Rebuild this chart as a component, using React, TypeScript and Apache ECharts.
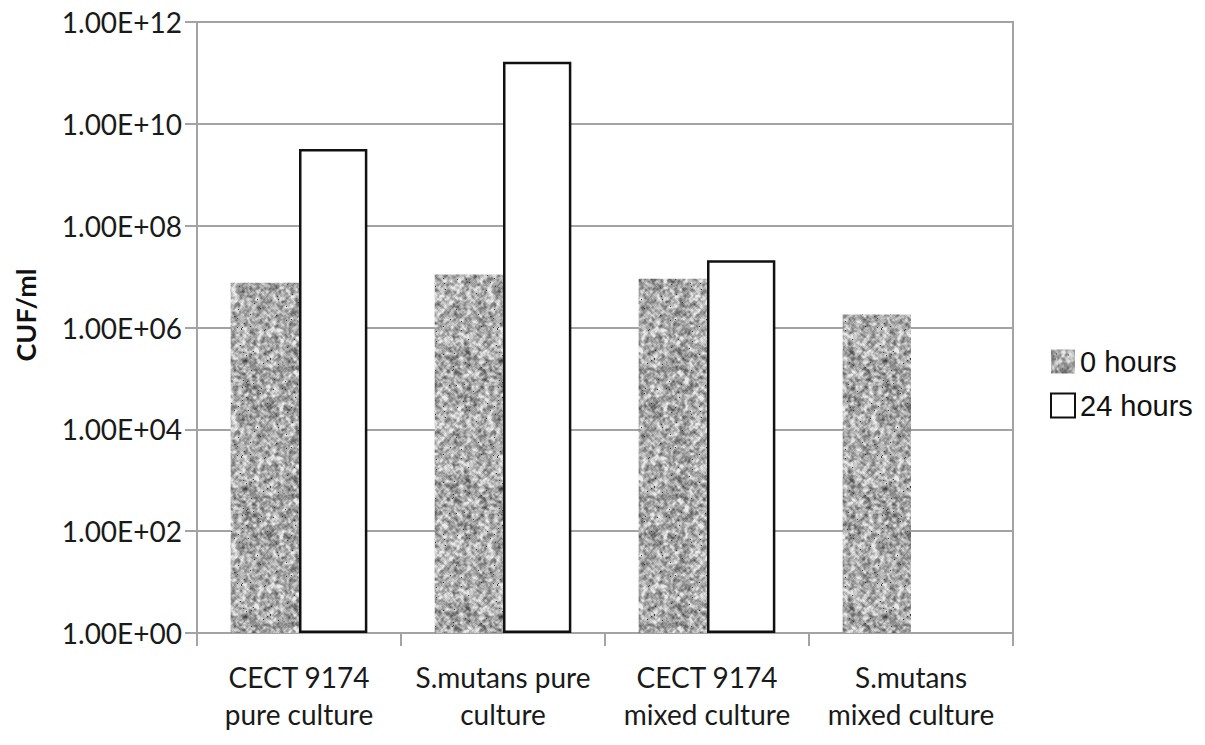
import React, { useEffect, useRef } from "react";
import * as echarts from "echarts";

// Categories (two-line labels) and colony counts per time point
const categories = [
  "CECT 9174\npure culture",
  "S.mutans pure\nculture",
  "CECT 9174\nmixed culture",
  "S.mutans\nmixed culture",
];
const seriesNames = ["0 hours", "24 hours"];
const hours0 = [7.6e6, 1.1e7, 9.1e6, 1.8e6];
const hours24: (number | null)[] = [3.2e9, 1.66e11, 2.1e7, null];

const yAxisTitle = "CUF/ml";

// Formats 1e12 as "1.00E+12"
function sciLabel(v: number): string {
  const exp = Math.round(Math.log10(v));
  const mant = v / Math.pow(10, exp);
  const sign = exp < 0 ? "-" : "+";
  return `${mant.toFixed(2)}E${sign}${String(Math.abs(exp)).padStart(2, "0")}`;
}

// Seeded generator for the mottled grey fill texture
function mulberry32(a: number) {
  return function () {
    a |= 0;
    a = (a + 0x6d2b79f5) | 0;
    let t = Math.imul(a ^ (a >>> 15), 1 | a);
    t = (t + Math.imul(t ^ (t >>> 7), 61 | t)) ^ t;
    return ((t ^ (t >>> 14)) >>> 0) / 4294967296;
  };
}

function boxBlur(src: Float32Array, size: number, r: number): Float32Array {
  const out = new Float32Array(size * size);
  const n = (2 * r + 1) * (2 * r + 1);
  for (let y = 0; y < size; y++) {
    for (let x = 0; x < size; x++) {
      let s = 0;
      for (let dy = -r; dy <= r; dy++)
        for (let dx = -r; dx <= r; dx++) {
          const xx = (x + dx + size) % size;
          const yy = (y + dy + size) % size;
          s += src[yy * size + xx];
        }
      out[y * size + x] = s / n;
    }
  }
  return out;
}

function makeGraniteTexture(size: number): HTMLCanvasElement {
  const rnd = mulberry32(9174);
  const raw = new Float32Array(size * size);
  for (let i = 0; i < raw.length; i++) raw[i] = rnd();
  const fine = boxBlur(raw, size, 1);
  const coarse = boxBlur(boxBlur(raw, size, 2), size, 1);
  const c = document.createElement("canvas");
  c.width = size;
  c.height = size;
  const ctx = c.getContext("2d")!;
  const img = ctx.createImageData(size, size);
  for (let i = 0; i < raw.length; i++) {
    const n =
      (fine[i] - 0.5) * 2.0 + (coarse[i] - 0.5) * 2.6 + (raw[i] - 0.5) * 0.45;
    let v = 172 + n * 85;
    if (rnd() < 0.006) v = 60;
    v = Math.max(50, Math.min(235, v));
    img.data[i * 4] = v;
    img.data[i * 4 + 1] = v;
    img.data[i * 4 + 2] = v;
    img.data[i * 4 + 3] = 255;
  }
  ctx.putImageData(img, 0, 0);
  return c;
}

const GRID_GRAY = "#a3a3a3";
const LABEL_FONT = "Lato, 'Open Sans', sans-serif";
const TEX_SIZE = 128;

export default function App() {
  const ref = useRef<HTMLDivElement>(null);

  useEffect(() => {
    if (!ref.current) return;
    const chart = echarts.init(ref.current, undefined, { renderer: "svg" });
    const tex = makeGraniteTexture(TEX_SIZE);
    const granite: any = {
      image: tex.toDataURL(),
      repeat: "repeat",
      imageWidth: TEX_SIZE,
      imageHeight: TEX_SIZE,
    };

    chart.setOption({
      animation: false,
      backgroundColor: "#ffffff",
      grid: {
        left: 197,
        right: 192,
        top: 22,
        bottom: 112,
        show: true,
        borderColor: GRID_GRAY,
        borderWidth: 2,
      },
      legend: {
        orient: "vertical",
        left: 1045,
        top: 342,
        itemWidth: 24,
        itemHeight: 24,
        itemGap: 15,
        icon: "rect",
        data: seriesNames,
        textStyle: {
          fontFamily: "'Liberation Sans', Arial, sans-serif",
          fontSize: 29,
          color: "#111",
        },
      },
      xAxis: {
        type: "category",
        data: categories,
        axisLine: { lineStyle: { color: GRID_GRAY, width: 2 } },
        axisTick: { show: true, length: 13, lineStyle: { color: GRID_GRAY, width: 2 } },
        axisLabel: {
          interval: 0,
          margin: 25,
          fontFamily: LABEL_FONT,
          fontSize: 28,
          lineHeight: 37,
          color: "#1a1a1a",
        },
      },
      yAxis: {
        type: "log",
        logBase: 10,
        min: 1,
        max: 1e12,
        interval: 2,
        axisLine: { show: true, lineStyle: { color: GRID_GRAY, width: 2 } },
        axisTick: { show: true, length: 12, lineStyle: { color: GRID_GRAY, width: 2 } },
        splitLine: { show: true, lineStyle: { color: GRID_GRAY, width: 2 } },
        minorTick: { show: false },
        axisLabel: {
          margin: 15,
          fontFamily: LABEL_FONT,
          fontSize: 28,
          color: "#1a1a1a",
          formatter: (v: number) => sciLabel(v),
        },
      },
      graphic: [
        {
          type: "text",
          x: 25,
          y: 315,
          rotation: Math.PI / 2,
          style: {
            text: yAxisTitle,
            font: `bold 27px ${LABEL_FONT}`,
            fill: "#111",
            textAlign: "center",
            textVerticalAlign: "middle",
          },
        },
      ],
      series: [
        {
          name: seriesNames[0],
          type: "bar",
          data: hours0,
          barGap: "0%",
          barCategoryGap: "33%",
          itemStyle: { color: granite, borderWidth: 0 },
        },
        {
          name: seriesNames[1],
          type: "bar",
          data: hours24.map((v) => (v == null ? "-" : v)),
          itemStyle: { color: "#ffffff", borderColor: "#111", borderWidth: 2.5 },
        },
      ],
    });

    return () => chart.dispose();
  }, []);

  return (
    <div
      ref={ref}
      style={{ position: "fixed", left: 0, top: 0, width: 1205, height: 745 }}
    />
  );
}
